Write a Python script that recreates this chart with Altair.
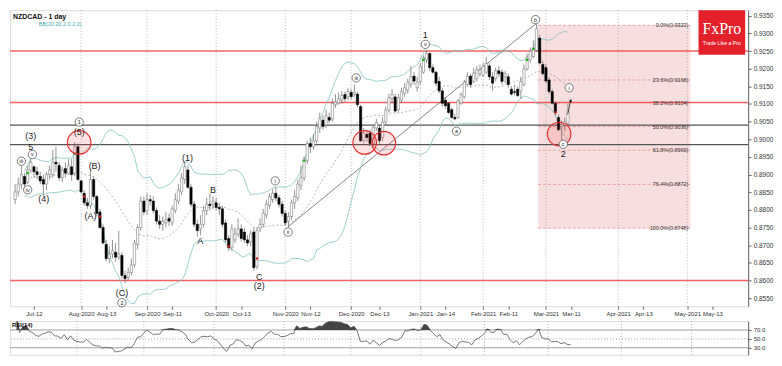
import altair as alt
import pandas as pd

# ---------------- data ----------------
FIRST = 2  # trading-day index of the first visible candle (2020-07-03)

opens = [
    0.8829, 0.8851, 0.8873, 0.8895, 0.8878, 0.8913, 0.8922, 0.8908, 0.8895, 0.8886,
    0.8873, 0.8900, 0.8900, 0.8935, 0.8926, 0.8891, 0.8917, 0.8904, 0.8922, 0.8904,
    0.8979, 0.8882, 0.8847, 0.8820, 0.8812, 0.8886, 0.8838, 0.8794, 0.8750, 0.8702,
    0.8662, 0.8675, 0.8680, 0.8666, 0.8671, 0.8614, 0.8609, 0.8622, 0.8644, 0.8702,
    0.8750, 0.8825, 0.8798, 0.8829, 0.8825, 0.8798, 0.8768, 0.8759, 0.8763, 0.8776,
    0.8763, 0.8798, 0.8825, 0.8851, 0.8886, 0.8913, 0.8864, 0.8816, 0.8759, 0.8746,
    0.8759, 0.8798, 0.8816, 0.8816, 0.8820, 0.8807, 0.8803, 0.8763, 0.8719, 0.8693,
    0.8715, 0.8732, 0.8746, 0.8737, 0.8715, 0.8710, 0.8737, 0.8640, 0.8746, 0.8759,
    0.8785, 0.8812, 0.8829, 0.8847, 0.8834, 0.8816, 0.8790, 0.8768, 0.8781, 0.8820,
    0.8834, 0.8869, 0.8891, 0.8939, 0.8988, 0.8979, 0.8996, 0.9032, 0.9054, 0.9040,
    0.9062, 0.9058, 0.9098, 0.9102, 0.9111, 0.9127, 0.9120, 0.9133, 0.9127, 0.9128,
    0.9093, 0.8996, 0.9014, 0.9018, 0.8988, 0.9032, 0.9032, 0.9005, 0.9049, 0.9083,
    0.9115, 0.9120, 0.9084, 0.9111, 0.9130, 0.9139, 0.9155, 0.9179, 0.9146, 0.9164,
    0.9190, 0.9225, 0.9243, 0.9203, 0.9190, 0.9164, 0.9137, 0.9111, 0.9102, 0.9084,
    0.9062, 0.9062, 0.9102, 0.9120, 0.9155, 0.9179, 0.9164, 0.9172, 0.9186, 0.9181,
    0.9190, 0.9208, 0.9177, 0.9172, 0.9194, 0.9190, 0.9177, 0.9177, 0.9142, 0.9135,
    0.9142, 0.9137, 0.9155, 0.9199, 0.9225, 0.9234, 0.9252, 0.9287, 0.9212, 0.9203,
    0.9168, 0.9135, 0.9102, 0.9062, 0.9036, 0.9040, 0.9045,
]
highs = [
    0.8873, 0.8891, 0.8926, 0.8904, 0.8926, 0.8944, 0.8926, 0.8922, 0.8908, 0.8900,
    0.8908, 0.8926, 0.8970, 0.8979, 0.8935, 0.8922, 0.8935, 0.8944, 0.8944, 0.8992,
    0.8988, 0.8886, 0.8856, 0.8834, 0.8917, 0.8895, 0.8842, 0.8803, 0.8759, 0.8715,
    0.8697, 0.8715, 0.8706, 0.8741, 0.8680, 0.8627, 0.8636, 0.8662, 0.8715, 0.8759,
    0.8838, 0.8838, 0.8847, 0.8842, 0.8838, 0.8807, 0.8785, 0.8781, 0.8794, 0.8790,
    0.8812, 0.8847, 0.8873, 0.8904, 0.8935, 0.8926, 0.8873, 0.8825, 0.8772, 0.8785,
    0.8812, 0.8834, 0.8847, 0.8838, 0.8834, 0.8820, 0.8812, 0.8772, 0.8728, 0.8759,
    0.8750, 0.8776, 0.8759, 0.8750, 0.8728, 0.8741, 0.8750, 0.8750, 0.8776, 0.8803,
    0.8829, 0.8847, 0.8860, 0.8864, 0.8842, 0.8825, 0.8798, 0.8794, 0.8829, 0.8856,
    0.8886, 0.8926, 0.8952, 0.8996, 0.9005, 0.9014, 0.9049, 0.9076, 0.9067, 0.9084,
    0.9076, 0.9115, 0.9128, 0.9133, 0.9137, 0.9135, 0.9146, 0.9142, 0.9155, 0.9135,
    0.9098, 0.9032, 0.9027, 0.9027, 0.9040, 0.9058, 0.9040, 0.9062, 0.9093, 0.9128,
    0.9142, 0.9128, 0.9128, 0.9146, 0.9159, 0.9172, 0.9208, 0.9190, 0.9177, 0.9216,
    0.9238, 0.9252, 0.9247, 0.9212, 0.9194, 0.9177, 0.9146, 0.9120, 0.9106, 0.9089,
    0.9071, 0.9115, 0.9133, 0.9168, 0.9190, 0.9186, 0.9203, 0.9208, 0.9212, 0.9216,
    0.9234, 0.9216, 0.9190, 0.9203, 0.9208, 0.9199, 0.9194, 0.9186, 0.9150, 0.9155,
    0.9150, 0.9177, 0.9212, 0.9243, 0.9260, 0.9282, 0.9326, 0.9296, 0.9221, 0.9212,
    0.9177, 0.9142, 0.9106, 0.9071, 0.9054, 0.9062, 0.9102,
]
lows = [
    0.8816, 0.8838, 0.8860, 0.8860, 0.8873, 0.8904, 0.8891, 0.8886, 0.8873, 0.8838,
    0.8856, 0.8886, 0.8891, 0.8908, 0.8882, 0.8878, 0.8891, 0.8900, 0.8882, 0.8895,
    0.8882, 0.8847, 0.8812, 0.8803, 0.8803, 0.8829, 0.8781, 0.8746, 0.8702, 0.8653,
    0.8649, 0.8662, 0.8653, 0.8658, 0.8605, 0.8592, 0.8600, 0.8614, 0.8636, 0.8688,
    0.8741, 0.8785, 0.8785, 0.8812, 0.8790, 0.8759, 0.8746, 0.8741, 0.8750, 0.8754,
    0.8754, 0.8790, 0.8816, 0.8842, 0.8873, 0.8860, 0.8807, 0.8750, 0.8724, 0.8728,
    0.8750, 0.8785, 0.8798, 0.8803, 0.8798, 0.8785, 0.8750, 0.8706, 0.8684, 0.8684,
    0.8706, 0.8724, 0.8710, 0.8706, 0.8697, 0.8697, 0.8627, 0.8631, 0.8737, 0.8750,
    0.8776, 0.8803, 0.8820, 0.8825, 0.8807, 0.8781, 0.8754, 0.8750, 0.8772, 0.8803,
    0.8825, 0.8856, 0.8882, 0.8930, 0.8961, 0.8970, 0.8988, 0.9018, 0.9027, 0.9032,
    0.9045, 0.9049, 0.9089, 0.9098, 0.9102, 0.9106, 0.9111, 0.9113, 0.9120, 0.9091,
    0.8992, 0.8988, 0.8992, 0.8979, 0.8979, 0.9023, 0.8988, 0.8996, 0.9040, 0.9076,
    0.9102, 0.9076, 0.9076, 0.9102, 0.9120, 0.9130, 0.9146, 0.9155, 0.9135, 0.9155,
    0.9186, 0.9216, 0.9194, 0.9186, 0.9150, 0.9130, 0.9093, 0.9086, 0.9071, 0.9058,
    0.9054, 0.9058, 0.9098, 0.9115, 0.9150, 0.9146, 0.9159, 0.9164, 0.9177, 0.9177,
    0.9186, 0.9168, 0.9137, 0.9164, 0.9177, 0.9155, 0.9159, 0.9146, 0.9124, 0.9124,
    0.9120, 0.9115, 0.9150, 0.9194, 0.9216, 0.9230, 0.9247, 0.9212, 0.9181, 0.9159,
    0.9128, 0.9098, 0.9067, 0.9023, 0.8988, 0.9023, 0.9036,
]
closes = [
    0.8851, 0.8873, 0.8900, 0.8873, 0.8913, 0.8935, 0.8908, 0.8900, 0.8882, 0.8873,
    0.8900, 0.8913, 0.8935, 0.8930, 0.8891, 0.8913, 0.8904, 0.8926, 0.8900, 0.8979,
    0.8886, 0.8851, 0.8820, 0.8812, 0.8886, 0.8838, 0.8790, 0.8750, 0.8706, 0.8662,
    0.8675, 0.8684, 0.8666, 0.8675, 0.8614, 0.8605, 0.8622, 0.8644, 0.8706, 0.8750,
    0.8825, 0.8794, 0.8829, 0.8825, 0.8798, 0.8768, 0.8759, 0.8768, 0.8772, 0.8768,
    0.8803, 0.8829, 0.8856, 0.8891, 0.8922, 0.8864, 0.8816, 0.8759, 0.8741, 0.8759,
    0.8798, 0.8816, 0.8812, 0.8825, 0.8807, 0.8803, 0.8759, 0.8715, 0.8693, 0.8746,
    0.8732, 0.8746, 0.8719, 0.8715, 0.8706, 0.8732, 0.8636, 0.8741, 0.8759, 0.8790,
    0.8816, 0.8838, 0.8847, 0.8834, 0.8816, 0.8790, 0.8763, 0.8781, 0.8820, 0.8838,
    0.8873, 0.8891, 0.8944, 0.8988, 0.8979, 0.8996, 0.9036, 0.9058, 0.9036, 0.9067,
    0.9054, 0.9102, 0.9106, 0.9115, 0.9124, 0.9115, 0.9135, 0.9121, 0.9133, 0.9098,
    0.8996, 0.9018, 0.9005, 0.8988, 0.9033, 0.9047, 0.8996, 0.9049, 0.9083, 0.9118,
    0.9127, 0.9080, 0.9118, 0.9135, 0.9146, 0.9162, 0.9177, 0.9165, 0.9162, 0.9206,
    0.9232, 0.9243, 0.9203, 0.9190, 0.9159, 0.9137, 0.9102, 0.9095, 0.9076, 0.9062,
    0.9058, 0.9109, 0.9127, 0.9162, 0.9179, 0.9155, 0.9188, 0.9197, 0.9197, 0.9206,
    0.9215, 0.9177, 0.9159, 0.9194, 0.9186, 0.9164, 0.9186, 0.9155, 0.9128, 0.9133,
    0.9124, 0.9164, 0.9199, 0.9232, 0.9250, 0.9259, 0.9313, 0.9216, 0.9186, 0.9165,
    0.9135, 0.9102, 0.9076, 0.9027, 0.9042, 0.9049, 0.9080,
]

# x-axis tick labels (as printed on the chart) and the days they sit on
tick_dates = ["2020-07-13", "2020-08-03", "2020-08-13", "2020-09-01", "2020-09-11",
              "2020-10-01", "2020-10-13", "2020-11-02", "2020-11-12", "2020-12-01",
              "2020-12-14", "2021-01-04", "2021-01-14", "2021-02-01", "2021-02-11",
              "2021-03-01", "2021-03-11", "2021-04-01", "2021-04-13", "2021-05-03",
              "2021-05-13"]
tick_labels = ["Jul-12", "Aug-2020", "Aug-13", "Sep-2020", "Sep-11", "Oct-2020", "Oct-13",
               "Nov-2020", "Nov-12", "Dec-2020", "Dec-13", "Jan-2021", "Jan-14",
               "Feb-2021", "Feb-11", "Mar-2021", "Mar-11", "Apr-2021", "Apr-13",
               "May-2021", "May-13"]
month_starts = ["2020-08-03", "2020-09-01", "2020-10-01", "2020-11-02", "2020-12-01",
                "2021-01-04", "2021-02-01", "2021-03-01", "2021-04-01", "2021-05-03"]

# price axis tick values
price_ticks = [0.8550, 0.8600, 0.8650, 0.8700, 0.8750, 0.8800, 0.8850, 0.8900, 0.8950,
               0.9000, 0.9050, 0.9100, 0.9150, 0.9200, 0.9250, 0.9300, 0.9350]

# horizontal support / resistance lines
red_levels = [0.9250, 0.9104, 0.8600]
grey_levels = [0.9040, 0.8985]

# Fibonacci retracement
fib_pct = ["0.0%", "23.6%", "38.2%", "50.0%", "61.8%", "76.4%", "100.0%"]
fib_price = [0.9323, 0.9168, 0.9104, 0.9036, 0.8969, 0.8872, 0.8748]
fib_from, fib_to = 168.5, 217.0

# trend line ((ii) low -> (b) high)
trend_idx = [88.9, 168.0]
trend_price = [0.8752, 0.9329]

# wave labels: plain text
txt_labels = ["(3)", "5", "(4)", "(5)", "(B)", "(A)", "(C)", "(1)", "A", "B", "C", "(2)", "1", "2"]
txt_idx = [7.0, 7.0, 11.1, 22.4, 27.3, 26.0, 36.0, 56.9, 60.9, 65.0, 79.7, 79.7, 132.6, 176.5]
txt_price = [0.9010, 0.8979, 0.8830, 0.9020, 0.8925, 0.8783, 0.8564, 0.8948, 0.8711,
             0.8857, 0.8611, 0.8585, 0.9295, 0.8957]

# wave labels: circled
circ_labels = ["iii", "iv", "v", "1", "2", "i", "ii", "iii", "v", "a", "b", "c", "i"]
circ_idx = [4.0, 6.0, 7.5, 22.4, 36.0, 84.8, 88.9, 110.6, 132.6, 142.5, 167.7, 176.5, 178.4]
circ_price = [0.8938, 0.8857, 0.8957, 0.9049, 0.8537, 0.8882, 0.8737, 0.9174, 0.9269,
              0.9023, 0.9339, 0.8986, 0.9146]

# red highlight circles
ring_idx = [22.4, 113.3, 119.4, 175.2]
ring_price = [0.8991, 0.8991, 0.8989, 0.9015]

# small signal dots
dot_idx = [6, 21, 94, 132, 165, 167, 24, 29, 70, 79, 174]
dot_price = [0.8904, 0.8959, 0.8939, 0.9225, 0.9225, 0.9256, 0.8838, 0.8781, 0.8697, 0.8662, 0.9076]
dot_kind = ["buy"] * 6 + ["sell"] * 5

# projection arrow
arrow_idx = [177.9, 178.9]
arrow_price = [0.9070, 0.9110]

rsi_levels = [70, 50, 30]

# ---------------- build tables ----------------
days = pd.bdate_range("2020-07-01", "2021-06-30")
days = days[~days.isin(pd.to_datetime(["2020-12-25", "2021-01-01"]))]
day_index = {d.strftime("%Y-%m-%d"): i for i, d in enumerate(days)}

n = len(closes)
candles = pd.DataFrame({
    "idx": list(range(FIRST, FIRST + n)),
    "open": opens, "high": highs, "low": lows, "close": closes,
})
candles["dir"] = ["up" if c >= o else "down" for o, c in zip(opens, closes)]

tick_idx = [day_index[d] for d in tick_dates]
label_expr = " : ".join(f"datum.value == {i} ? '{t}'" for i, t in zip(tick_idx, tick_labels)) + " : ''"
months_df = pd.DataFrame({"idx": [day_index[d] for d in month_starts]})

W, H, HR = 743, 298, 34
FONT = "Liberation Sans"
XS = alt.Scale(domain=[1.95, 233.8], nice=False, zero=False)
YS = alt.Scale(domain=[0.8527, 0.9366], nice=False, zero=False)

x_axis = alt.Axis(values=tick_idx, labelExpr=label_expr, title=None, grid=False, tickSize=3,
                  tickColor="#666", labelFontSize=6, labelColor="#333", labelFont=FONT,
                  domain=False, labelPadding=1, labelOverlap=False, labelFlush=False)
y_axis = alt.Axis(orient="right", values=price_ticks, format=".4f", title=None, grid=False,
                  tickSize=3, labelFontSize=6.5, labelColor="#333", labelFont=FONT,
                  domainColor="#666", tickColor="#666", labelPadding=2)


def X(f):
    return alt.X(f, type="quantitative", scale=XS, axis=x_axis)


def Y(f):
    return alt.Y(f, type="quantitative", scale=YS, axis=y_axis)


one = pd.DataFrame({"a": [0]})

zone = alt.Chart(pd.DataFrame({"x0": [fib_from], "x1": [fib_to], "top": [fib_price[0]],
                               "bot": [fib_price[-1]]})).mark_rect(
    color="#f3c9c9", opacity=0.6).encode(x=X("x0"), x2="x1", y=Y("top"), y2="bot")

grid = alt.Chart(months_df).mark_rule(color="#9a9a9a", strokeDash=[1, 2], strokeWidth=0.7).encode(x=X("idx"))

fib_df = pd.DataFrame({"price": fib_price,
                       "lab": [f"{p}({v:.4f})" for p, v in zip(fib_pct, fib_price)],
                       "x0": fib_from, "x1": fib_to})
fib_lines = alt.Chart(fib_df).mark_rule(color="#e58a8a", strokeDash=[3, 2], strokeWidth=0.7).encode(
    x=X("x0"), x2="x1", y=Y("price"))
fib_text = alt.Chart(fib_df).mark_text(align="right", baseline="middle", dx=-2, fontSize=5.5,
                                       color="#333", font=FONT).encode(x=X("x1"), y=Y("price"), text="lab")

red_lines = alt.Chart(pd.DataFrame({"p": red_levels})).mark_rule(
    color="#f25050", strokeWidth=1.5, opacity=0.9).encode(y=Y("p"))
grey_lines = alt.Chart(pd.DataFrame({"p": grey_levels})).mark_rule(
    color="#555555", strokeWidth=1.3).encode(y=Y("p"))

trend = alt.Chart(pd.DataFrame({"i": trend_idx, "p": trend_price})).mark_line(
    color="#666", strokeWidth=0.8).encode(x=X("i"), y=Y("p"))

bb = alt.Chart(candles).transform_window(
    ma="mean(close)", sd="stdevp(close)", frame=[-19, 0], sort=[alt.SortField("idx")]
).transform_calculate(up="datum.ma + 2 * datum.sd", lo="datum.ma - 2 * datum.sd").transform_filter(
    "datum.idx >= 5")
bb_up = bb.mark_line(color="#86c3c3", strokeWidth=0.8, clip=True).encode(x=X("idx"), y=Y("up:Q"))
bb_lo = bb.mark_line(color="#86c3c3", strokeWidth=0.8, clip=True).encode(x=X("idx"), y=Y("lo:Q"))
bb_ma = bb.mark_line(color="#999", strokeDash=[2, 2], strokeWidth=0.7, clip=True).encode(
    x=X("idx"), y=Y("ma:Q"))

wicks = alt.Chart(candles).mark_rule(color="#666", strokeWidth=0.7).encode(
    x=X("idx"), y=Y("low"), y2="high")
bodies = alt.Chart(candles).mark_bar(size=2.3, strokeWidth=0.5).encode(
    x=X("idx"), y=Y("open"), y2="close",
    fill=alt.Fill("dir:N", scale=alt.Scale(domain=["up", "down"], range=["#ffffff", "#000000"]), legend=None),
    stroke=alt.Stroke("dir:N", scale=alt.Scale(domain=["up", "down"], range=["#6a6a6a", "#000000"]), legend=None),
)

dots = alt.Chart(pd.DataFrame({"i": dot_idx, "p": dot_price, "k": dot_kind})).mark_point(
    filled=True, size=7, opacity=1).encode(
    x=X("i"), y=Y("p"),
    color=alt.Color("k:N", scale=alt.Scale(domain=["buy", "sell"], range=["#22b022", "#d02020"]), legend=None))

rings = alt.Chart(pd.DataFrame({"i": ring_idx, "p": ring_price})).mark_point(
    shape="circle", filled=True, size=560, fill="#ff2020", fillOpacity=0.13,
    stroke="#e83030", strokeWidth=1.2, opacity=1).encode(x=X("i"), y=Y("p"))

circ_df = pd.DataFrame({"i": circ_idx, "p": circ_price, "t": circ_labels})
circ_pts = alt.Chart(circ_df).mark_point(shape="circle", filled=True, size=70, fill="white",
                                         stroke="#444", strokeWidth=0.7, opacity=1).encode(
    x=X("i"), y=Y("p"))
circ_txt = alt.Chart(circ_df).mark_text(fontSize=5.5, color="#222", font=FONT, baseline="middle").encode(
    x=X("i"), y=Y("p"), text="t")

plain = alt.Chart(pd.DataFrame({"i": txt_idx, "p": txt_price, "t": txt_labels})).mark_text(
    fontSize=9, color="#222", font=FONT, baseline="middle").encode(x=X("i"), y=Y("p"), text="t")

arrow_df = pd.DataFrame({"i": arrow_idx, "p": arrow_price})
arrow_line = alt.Chart(arrow_df).mark_line(color="#222", strokeWidth=0.8).encode(x=X("i"), y=Y("p"))
arrow_head = alt.Chart(arrow_df.tail(1)).mark_point(shape="triangle-up", filled=True, size=12,
                                                    color="#222", angle=20, opacity=1).encode(
    x=X("i"), y=Y("p"))

logo_box = alt.Chart(one).mark_rect(color="#e4202a").encode(
    x=alt.value(693), x2=alt.value(740), y=alt.value(0), y2=alt.value(45))
logo_t1 = alt.Chart(one).mark_text(text="FxPro", font="Liberation Serif", fontSize=16,
                                   color="white", baseline="middle").encode(
    x=alt.value(716.5), y=alt.value(19))
logo_t2 = alt.Chart(one).mark_text(text="Trade Like a Pro", font=FONT, fontSize=5.2,
                                   color="white", baseline="middle").encode(
    x=alt.value(716.5), y=alt.value(33))

title1 = alt.Chart(one).mark_text(text="NZDCAD - 1 day", font=FONT, fontSize=7, fontWeight="bold",
                                  color="#111", align="left", baseline="top").encode(
    x=alt.value(3), y=alt.value(3))
title2 = alt.Chart(one).mark_text(text="BB(20,20,2.0,2.0)", font=FONT, fontSize=5.5, color="#4aa",
                                  align="left", baseline="top").encode(x=alt.value(29), y=alt.value(12))

main = alt.layer(
    zone, grid, fib_lines, red_lines, grey_lines, trend, bb_up, bb_lo, bb_ma,
    wicks, bodies, dots, rings, circ_pts, circ_txt, plain, arrow_line, arrow_head,
    fib_text, logo_box, logo_t1, logo_t2, title1, title2,
).properties(width=W, height=H)

# ---------------- RSI panel ----------------
RS = alt.Scale(domain=[14, 90], nice=False, zero=False)
r_axis = alt.Axis(orient="right", values=[30, 50, 70], format=".1f", title=None, grid=False,
                  tickSize=3, labelFontSize=6, labelColor="#333", labelFont=FONT,
                  domainColor="#666", tickColor="#666", labelPadding=2)


def XR(f):
    return alt.X(f, type="quantitative", scale=XS, axis=None)


def YR(f):
    return alt.Y(f, type="quantitative", scale=RS, axis=r_axis)


rsi_base = alt.Chart(candles).transform_window(
    prev="lag(close)", sort=[alt.SortField("idx")]
).transform_filter("datum.prev != null").transform_calculate(
    g="max(datum.close - datum.prev, 0)", l="max(datum.prev - datum.close, 0)"
).transform_window(
    ag="mean(g)", al="mean(l)", frame=[-13, 0], sort=[alt.SortField("idx")]
).transform_calculate(
    rsi="datum.al == 0 ? 100 : 100 - 100 / (1 + datum.ag / datum.al)"
).transform_calculate(rtop="max(datum.rsi, 70)", base="70").transform_filter("datum.idx >= 4")

rsi_fill = rsi_base.mark_area(color="#444", clip=True).encode(x=XR("idx"), y=YR("rtop:Q"), y2="base:Q")
rsi_line = rsi_base.mark_line(color="#555", strokeWidth=0.8, clip=True).encode(x=XR("idx"), y=YR("rsi:Q"))
lv = pd.DataFrame({"v": rsi_levels, "dash": ["solid", "dot", "solid"]})
rsi_lv_solid = alt.Chart(lv[lv.dash == "solid"]).mark_rule(color="#888", strokeWidth=0.8).encode(y=YR("v"))
rsi_lv_dot = alt.Chart(lv[lv.dash == "dot"]).mark_rule(color="#888", strokeWidth=0.8,
                                                      strokeDash=[1, 2]).encode(y=YR("v"))
rsi_grid = alt.Chart(months_df).mark_rule(color="#9a9a9a", strokeDash=[1, 2], strokeWidth=0.7).encode(
    x=XR("idx"))
rsi_title = alt.Chart(one).mark_text(text="RSI(14)", font=FONT, fontSize=6, fontWeight="bold",
                                     color="#111", align="left", baseline="top").encode(
    x=alt.value(2), y=alt.value(1))

rsi = alt.layer(rsi_grid, rsi_lv_solid, rsi_lv_dot, rsi_fill, rsi_line, rsi_title).properties(
    width=W, height=HR)

chart = alt.vconcat(main, rsi, spacing=3).properties(
    padding={"left": 0, "top": 0, "right": 0, "bottom": 0}
).configure_view(stroke="#555", strokeWidth=1).configure(background="white")

chart.save("out.html", embed_options={"renderer": "svg", "actions": False})
